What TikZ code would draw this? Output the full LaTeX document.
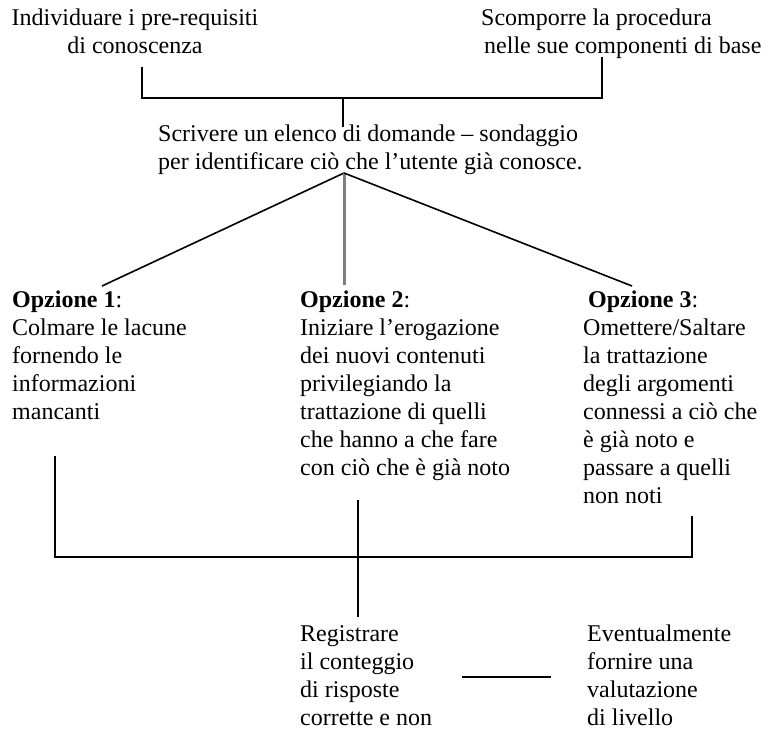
\documentclass[tikz,border=0pt]{standalone}
\usepackage{fontspec}
\setmainfont{Liberation Serif}
\definecolor{midgray}{RGB}{128,128,128}
\begin{document}
\begin{tikzpicture}[x=1pt,y=-1pt,
  txt/.style={inner sep=0pt,font=\fontsize{24}{28}\selectfont},
  ln/.style={line width=1.6pt,black},
  gln/.style={line width=3pt,midgray}]
\useasboundingbox (0,0) rectangle (768,733);
% texts
\node[txt,align=center,anchor=north] (tl) at (135,9) {Individuare i pre-requisiti\\di conoscenza};
\node[txt,align=left,anchor=north west] (tr) at (481,9) {Scomporre la procedura\\\hspace{3pt}nelle sue componenti di base};
\node[txt,align=left,anchor=north west] (mid) at (158,125) {Scrivere un elenco di domande -- sondaggio\\per identificare ciò che l’utente già conosce.};
\node[txt,align=left,anchor=north west] (o1) at (12,291) {\textbf{Opzione 1}:\\Colmare le lacune\\fornendo le\\informazioni\\mancanti};
\node[txt,align=left,anchor=north west] (o2) at (300,291) {\textbf{Opzione 2}:\\Iniziare l’erogazione\\dei nuovi contenuti\\privilegiando la\\trattazione di quelli\\che hanno a che fare\\con ciò che è già noto};
\node[txt,align=left,anchor=north west] (o3) at (583,291) {\hspace{5pt}\textbf{Opzione 3}:\\Omettere/Saltare\\la trattazione\\degli argomenti\\connessi a ciò che\\è già noto e\\passare a quelli\\non noti};
\node[txt,align=left,anchor=north west] (reg) at (300,625) {Registrare\\il conteggio\\di risposte\\corrette e non};
\node[txt,align=left,anchor=north west] (ev) at (587,625) {Eventualmente\\fornire una\\valutazione\\di livello};
% coordinates
\coordinate (tlFoot) at (142,67);
\coordinate (trFoot) at (602,57);
\coordinate (jTop) at (343,98);
\coordinate (midIn) at (343,127);
\coordinate (apex) at (344,173);
\coordinate (o1Top) at (102,286);
\coordinate (o2Top) at (344,285);
\coordinate (o3Top) at (632,286);
\coordinate (o1Foot) at (55,456);
\coordinate (o2Foot) at (358,500);
\coordinate (o3Foot) at (692,516);
\coordinate (jBot) at (358,557);
\coordinate (regTop) at (358,617);
\coordinate (regR) at (462,677);
\coordinate (evL) at (551,677);
% connectors
\draw[ln] (tlFoot) |- (jTop) -| (trFoot);
\draw[ln] (jTop) -- (midIn);
\draw[ln] (apex) -- (o1Top);
\draw[gln] (apex) -- (o2Top);
\draw[ln] (apex) -- (o3Top);
\draw[ln] (o1Foot) |- (jBot) -| (o3Foot);
\draw[ln] (o2Foot) -- (regTop);
\draw[ln] (regR) -- (evL);
\end{tikzpicture}
\end{document}
